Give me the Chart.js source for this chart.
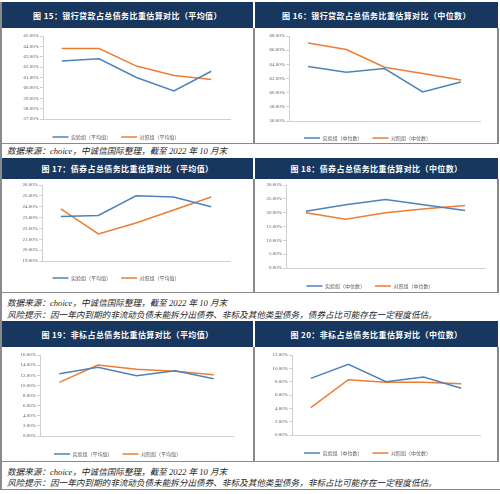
<!DOCTYPE html>
<html>
<head>
<meta charset="utf-8">
<script src="https://cdn.jsdelivr.net/npm/chart.js@4.4.1/dist/chart.umd.min.js"></script>
<style>
  body { margin: 0; width: 500px; height: 494px; background: #fff; position: relative; overflow: hidden; }
  .bar { position: absolute; background: #17375e; color: #fff; font: bold 8px "Noto Sans CJK SC", sans-serif;
         letter-spacing: .4px; display: flex; align-items: center; justify-content: center; white-space: nowrap; }
  .box { position: absolute; overflow: hidden; background: #fff; }
  .note { position: absolute; left: 7px; height: 12px; line-height: 12px; white-space: nowrap; color: #262626;
          font: italic 8.6px "Liberation Serif", "Noto Sans CJK SC", serif; }
  .ln { position: absolute; background: #8a8a8a; }
</style>
</head>
<body>
<script>
/* ---------- data ---------- */
const years = ['2017', '2018', '2019', '2020', '2021'];

const loanAvgTest = [62.6, 62.8, 61.0, 59.7, 61.6];
const loanAvgCtrl = [63.8, 63.8, 62.1, 61.2, 60.8];
const loanMedTest = [63.7, 62.9, 63.4, 60.1, 61.5];
const loanMedCtrl = [67.0, 66.1, 63.6, 62.7, 61.8];
const bondAvgTest = [23.1, 23.2, 25.0, 24.9, 24.0];
const bondAvgCtrl = [23.8, 21.5, 22.5, 23.7, 24.9];
const bondMedTest = [20.5, 22.9, 24.8, 22.8, 20.8];
const bondMedCtrl = [20.0, 17.6, 20.0, 21.4, 22.6];
const nsAvgTest = [12.3, 13.6, 11.9, 12.9, 11.3];
const nsAvgCtrl = [10.6, 14.0, 13.2, 12.8, 12.1];
const nsMedTest = [8.5, 10.6, 8.0, 8.7, 7.0];
const nsMedCtrl = [4.1, 8.3, 7.9, 7.9, 7.7];

// y axis: [min, max, step]
const loanAvgY = [57, 65, 1];
const loanMedY = [56, 68, 2];
const bondAvgY = [19, 26, 1];
const bondMedY = [0, 30, 5];
const nsAvgY = [0, 16, 2];
const nsMedY = [0, 12, 2];

const titles = [
  '图 15：银行贷款占总债务比重估算对比（平均值）',
  '图 16：银行贷款占总债务比重估算对比（中位数）',
  '图 17：债券占总债务比重估算对比（平均值）',
  '图 18：债券占总债务比重估算对比（中位数）',
  '图 19：非标占总债务比重估算对比（平均值）',
  '图 20：非标占总债务比重估算对比（中位数）'
];
const seriesNames = ['实验组', '对照组'];
const statNames = ['平均值', '中位数'];

const sourceNote = '数据来源：choice，中诚信国际整理，截至 2022 年 10 月末';
const riskBond = '风险提示：因一年内到期的非流动负债未能拆分出债券、非标及其他类型债务，债券占比可能存在一定程度低估。';
const riskNs = '风险提示：因一年内到期的非流动负债未能拆分出债券、非标及其他类型债务，非标占比可能存在一定程度低估。';

/* ---------- layout ---------- */
const BLUE = '#4f81bd';
const ORANGE = '#ed7d31';
const AXIS = '#d0d0d0';
const TICK = '#595959';
const LEG_FS = 5;

// bar = title bar, box = chart box, plot = plot area (page coords), legY = legend text centre
const panels = [
  { bar: [2, 2, 251, 26],    box: [2, 28, 251, 114],    plot: [43, 36, 230, 119],   legY: 137, test: loanAvgTest, ctrl: loanAvgCtrl, y: loanAvgY, stat: 0 },
  { bar: [255, 2, 243, 26],  box: [255, 28, 242, 114],  plot: [289, 36, 480, 121],  legY: 138, test: loanMedTest, ctrl: loanMedCtrl, y: loanMedY, stat: 1 },
  { bar: [2, 158, 251, 21],  box: [2, 179, 251, 113],   plot: [42, 185, 230, 261],  legY: 278, test: bondAvgTest, ctrl: bondAvgCtrl, y: bondAvgY, stat: 0 },
  { bar: [255, 158, 243, 21], box: [255, 179, 242, 113], plot: [286, 185, 485, 268], legY: 286, test: bondMedTest, ctrl: bondMedCtrl, y: bondMedY, stat: 1 },
  { bar: [2, 321, 251, 26],  box: [2, 347, 251, 114],   plot: [40, 355, 233, 436],  legY: 454, test: nsAvgTest, ctrl: nsAvgCtrl, y: nsAvgY, stat: 0 },
  { bar: [255, 321, 243, 26], box: [255, 347, 242, 114], plot: [292, 355, 480, 435], legY: 453, test: nsMedTest, ctrl: nsMedCtrl, y: nsMedY, stat: 1 }
];

const lines = [
  [0, 2, 2, 487],                               // left edge
  [253, 28, 2, 115], [497, 28, 1.5, 115], [1, 143, 498, 1],
  [253, 179, 2, 113], [497, 179, 1.5, 113], [1, 292, 498, 1],
  [253, 347, 2, 114], [497, 347, 1.5, 114], [1, 461, 498, 1],
  [0, 489, 500, 1]
];

const notes = [
  [150, sourceNote], [302, sourceNote], [314, riskBond], [471, sourceNote], [482, riskNs]
];

function place(el, [l, t, w, h]) {
  el.style.left = l + 'px'; el.style.top = t + 'px';
  if (w !== undefined) el.style.width = w + 'px';
  if (h !== undefined) el.style.height = h + 'px';
}

/* ---------- page furniture ---------- */
lines.forEach(r => {
  const d = document.createElement('div');
  d.className = 'ln';
  place(d, r);
  document.body.appendChild(d);
});

notes.forEach(([y, txt]) => {
  const d = document.createElement('div');
  d.className = 'note';
  d.style.top = (y - 6) + 'px';
  d.textContent = txt;
  document.body.appendChild(d);
});

/* ---------- charts ---------- */
panels.forEach((p, i) => {
  const bar = document.createElement('div');
  bar.className = 'bar';
  place(bar, p.bar);
  bar.textContent = titles[i];
  document.body.appendChild(bar);

  const [bl, bt, bw, bh] = p.box;
  const box = document.createElement('div');
  box.className = 'box';
  place(box, p.box);
  document.body.appendChild(box);

  const [pl, pt, pr, pb] = p.plot;
  const legPad = 10;
  const legTop = p.legY - legPad - LEG_FS / 2;
  const H = Math.round(p.legY - bt + 12.5);

  const cv = document.createElement('canvas');
  cv.width = bw;
  cv.height = H;
  box.appendChild(cv);

  const stat = statNames[p.stat];
  const [ymin, ymax, ystep] = p.y;

  new Chart(cv, {
    type: 'line',
    data: {
      labels: years,
      datasets: [
        { label: seriesNames[0] + '（' + stat + '）', data: p.test, borderColor: BLUE, backgroundColor: BLUE,
          borderWidth: 1.5, pointRadius: 0, tension: 0 },
        { label: seriesNames[1] + '（' + stat + '）', data: p.ctrl, borderColor: ORANGE, backgroundColor: ORANGE,
          borderWidth: 1.5, pointRadius: 0, tension: 0 }
      ]
    },
    options: {
      responsive: false,
      animation: false,
      layout: { padding: { left: 0, top: pt - bt, right: bl + bw - pr, bottom: H - (p.legY - bt + 12.5) } },
      plugins: {
        tooltip: { enabled: false },
        legend: {
          position: 'bottom',
          labels: {
            usePointStyle: true, pointStyle: 'line', pointStyleWidth: 16, boxHeight: LEG_FS,
            padding: legPad, color: TICK,
            font: { size: LEG_FS, family: '"Noto Sans CJK SC", sans-serif' }
          }
        }
      },
      scales: {
        x: {
          offset: true,
          grid: { display: false },
          border: { color: AXIS, width: 1 },
          ticks: { color: TICK, padding: 3, maxRotation: 0, font: { size: 5.5, family: '"Liberation Serif", serif' } },
          afterFit: s => { s.height = legTop - pb; }
        },
        y: {
          min: ymin, max: ymax,
          grid: { drawOnChartArea: false, tickLength: 3, color: AXIS },
          border: { color: AXIS, width: 1 },
          ticks: {
            stepSize: ystep, color: TICK, padding: 1,
            font: { size: 5, family: '"Liberation Serif", serif' },
            callback: v => v.toFixed(2) + '%'
          },
          afterFit: s => { s.width = pl - bl; }
        }
      }
    }
  });
});
</script>
</body>
</html>
